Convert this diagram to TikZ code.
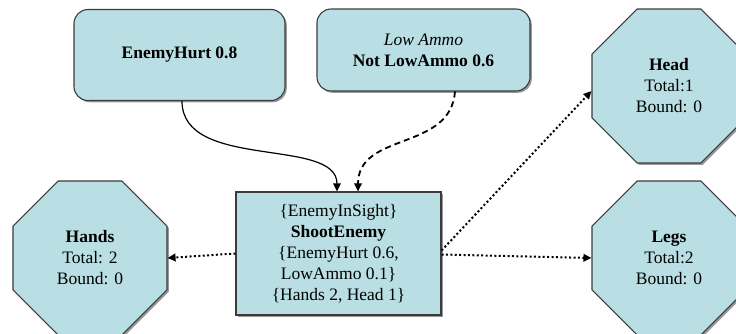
\documentclass[tikz,border=0pt]{standalone}
\usepackage{fontspec}
\setmainfont{Liberation Serif}
\usetikzlibrary{arrows.meta,shapes.geometric,shadows}
\definecolor{boxfill}{RGB}{185,223,228}
\definecolor{boxline}{RGB}{60,60,60}
\tikzset{
  base/.style={draw=boxline, line width=1.1pt, fill=boxfill, align=center,
    font=\fontsize{17.5}{21}\selectfont, inner sep=0pt,
    drop shadow={shadow xshift=1.8pt, shadow yshift=-1.8pt, fill=gray!80, opacity=1}},
  rbox/.style={base, rounded corners=14pt, minimum width=#1},
  sqbox/.style={base, minimum width=205pt, minimum height=123pt},
  octa/.style={base, regular polygon, regular polygon sides=8, minimum size=166.7pt},
  tip/.style={-{Triangle[length=8pt,width=7.5pt]}},
  dots/.style={tip, line width=2pt, dash pattern=on 2pt off 2.4pt},
  dashes/.style={tip, line width=1.8pt, dash pattern=on 6pt off 4pt},
  solidc/.style={tip, line width=1.2pt}
}
\begin{document}
\begin{tikzpicture}[x=1pt,y=-1pt]
\useasboundingbox (0,0) rectangle (736,333);
\node[rbox=211pt, minimum height=91pt] (eh) at (179.5,55) {\textbf{EnemyHurt 0.8}};
\node[rbox=213pt, minimum height=82pt] (la) at (423.5,50) {\textit{Low Ammo}\\\textbf{Not LowAmmo 0.6}};
\node[sqbox] (se) at (338.5,253.5) {\{EnemyInSight\}\\\textbf{ShootEnemy}\\\{EnemyHurt 0.6,\\LowAmmo 0.1\}\\\{Hands 2, Head 1\}};
\node[octa] (hands) at (90,258) {\textbf{Hands}\\Total: 2\\Bound: 0};
\node[octa] (head) at (669,86) {\textbf{Head}\\Total:1\\Bound: 0};
\node[octa] (legs) at (669,258) {\textbf{Legs}\\Total:2\\Bound: 0};
\draw[solidc] ([xshift=2.5pt]eh.south) .. controls ([xshift=2.5pt,yshift=-70pt]eh.south) and ([xshift=-1.5pt,yshift=55pt]se.north) .. ([xshift=-1.5pt]se.north);
\draw[dashes] ([xshift=31.5pt]la.south) .. controls ([xshift=27pt,yshift=-60pt]la.south) and ([xshift=19.5pt,yshift=60pt]se.north) .. ([xshift=19.5pt]se.north);
\draw[dots] (se.west) -- (hands.east);
\draw[dots] ([yshift=3pt]se.east) -- ([yshift=-5pt]head.west);
\draw[dots] ([yshift=-1pt]se.east) -- (legs.west);
\end{tikzpicture}
\end{document}
